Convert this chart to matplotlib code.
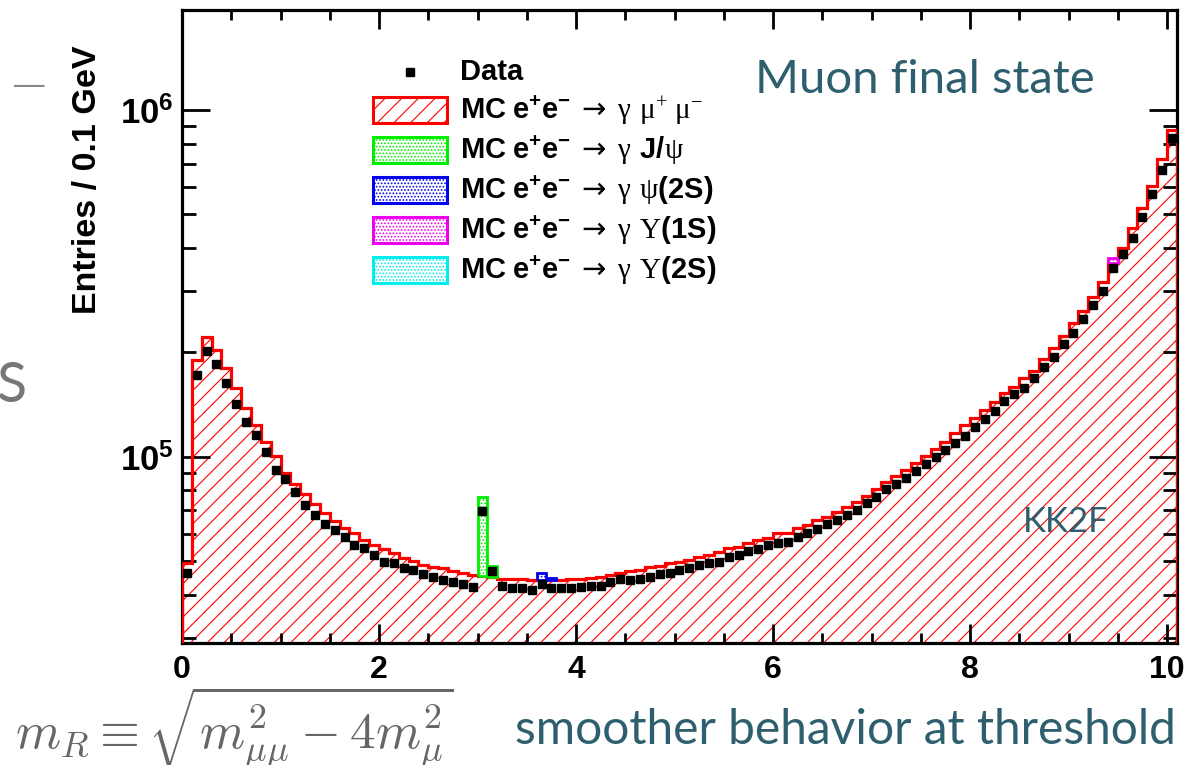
import numpy as np
import matplotlib
matplotlib.use("Agg")
import matplotlib.pyplot as plt
from matplotlib.patches import Rectangle
from matplotlib.lines import Line2D
from matplotlib.ticker import LogLocator, NullFormatter, FixedLocator

plt.rcParams['font.family'] = ['Liberation Sans', 'DejaVu Sans']
plt.rcParams['font.weight'] = 'bold'
plt.rcParams['mathtext.fontset'] = 'custom'
plt.rcParams['mathtext.rm'] = 'Liberation Serif:regular'
plt.rcParams['mathtext.it'] = 'Liberation Serif:italic:regular'
plt.rcParams['mathtext.bf'] = 'Liberation Sans:bold'
plt.rcParams['mathtext.sf'] = 'Liberation Sans:bold'
plt.rcParams['mathtext.tt'] = 'DejaVu Sans:regular'
plt.rcParams['hatch.linewidth'] = 0.8

# entries per 0.1 GeV bin, m_R from 0 to 10.1 GeV
bin_width = 0.1
data_counts = [46100, 172000, 201800, 184700, 162800, 141900, 125700, 115500, 103400, 91550,
               86060, 78950, 72550, 67880, 63830, 61460, 58790, 55630, 54430, 52060,
               49800, 49500, 47660, 47120, 45970, 44980, 44180, 43600, 43020, 42170,
               69720, 46900, 42370, 41900, 41900, 41260, 42940, 41900, 41730, 41730,
               42170, 42450, 42370, 43420, 44300, 44100, 44380, 45070, 45940, 46190,
               47120, 47750, 48650, 49270, 49800, 51480, 52060, 53560, 54060, 55630,
               56490, 56860, 58550, 60130, 61870, 63830, 65680, 67880, 70180, 73370,
               76710, 80540, 83240, 86640, 91130, 95270, 99600, 104900, 109700, 114700,
               121600, 128400, 135700, 144700, 151400, 157500, 168300, 181100, 194300, 211000,
               227900, 249600, 273800, 301200, 349400, 383500, 428100, 490300, 571200, 671300,
               828500]
mc_mumu = [49270, 190000, 221900, 203100, 179900, 157500, 137900, 123400, 110500, 100700,
           89560, 83430, 77900, 73030, 68660, 65240, 62400, 60130, 57510, 55630,
           54060, 52850, 50930, 50030, 48710, 48070, 47660, 46740, 46100, 45670,
           45280, 45070, 44380, 44380, 44300, 44100, 44100, 44100, 44100, 44300,
           44470, 44770, 45070, 45590, 46100, 46900, 47120, 47970, 48380, 49270,
           49800, 50360, 51480, 52060, 53210, 54640, 55000, 56260, 57510, 58160,
           60130, 60360, 62160, 63530, 65680, 67140, 69390, 71450, 74150, 77070,
           80540, 84700, 87950, 91550, 95710, 100500, 105000, 110500, 116800, 123400,
           129100, 136400, 144100, 153000, 159200, 168300, 177000, 191000, 206300, 222900,
           242600, 263800, 289400, 319800, 362000, 400700, 455800, 520600, 603700, 720800,
           875800]

# resonance MC, stacked on top of the mu mu continuum (bin centres in GeV)
jpsi_mass = [3.05, 3.15]
jpsi_counts = [31200, 3300]
psi2s_mass = [3.65, 3.75]
psi2s_counts = [2000, 500]
ups1s_mass = [9.45]
ups1s_counts = [12200]
ups2s_mass = []
ups2s_counts = []

arrow = r'\ \mathtt{\rightarrow}\ '
legend_labels = ['Data',
                 r'$\mathbf{MC\ e^{+}e^{-}}' + arrow + r'\mathrm{\gamma\;\,\mu^{+}\ \mu^{-}}$',
                 r'$\mathbf{MC\ e^{+}e^{-}}' + arrow + r'\mathrm{\gamma}\;\,\mathbf{J/}\mathrm{\psi}$',
                 r'$\mathbf{MC\ e^{+}e^{-}}' + arrow + r'\mathrm{\gamma\;\,\psi}\mathbf{(2S)}$',
                 r'$\mathbf{MC\ e^{+}e^{-}}' + arrow + r'\mathrm{\gamma\;\,\Upsilon}\mathbf{(1S)}$',
                 r'$\mathbf{MC\ e^{+}e^{-}}' + arrow + r'\mathrm{\gamma\;\,\Upsilon}\mathbf{(2S)}$']
legend_colors = ['red', '#00ee00', '#0000ee', '#ee00ee', '#00eeee']

W, H = 1188, 765
def fx(x):
    return x / W
def fy(y):
    return 1 - y / H

fig = plt.figure(figsize=(W / 100, H / 100), dpi=100)
ax = fig.add_axes([fx(182), fy(643), (1176.85 - 182) / W, (643 - 10) / H])

nbins = len(mc_mumu)
edges = np.arange(nbins + 1) * bin_width
centers = edges[:-1] + bin_width / 2
mumu = np.array(mc_mumu, dtype=float)

# hatched continuum + outline
ax.stairs(mumu, edges, baseline=1, fill=True, facecolor='none', edgecolor='red',
          hatch='//', lw=0, zorder=1)
ax.stairs(mumu, edges, color='red', lw=2.3, zorder=3)

def draw_resonance(masses, counts, color):
    for m, c in zip(masses, counts):
        i = int(round((m - bin_width / 2) / bin_width))
        ax.stairs([mumu[i] + c], [edges[i], edges[i + 1]], baseline=[mumu[i]], fill=True,
                  facecolor='white', edgecolor=color, hatch='.....', lw=2, zorder=4)

draw_resonance(jpsi_mass, jpsi_counts, legend_colors[1])
draw_resonance(psi2s_mass, psi2s_counts, legend_colors[2])
draw_resonance(ups1s_mass, ups1s_counts, legend_colors[3])
draw_resonance(ups2s_mass, ups2s_counts, legend_colors[4])

ax.plot(centers, data_counts, 's', color='black', ms=6.3, zorder=5)

ax.set_yscale('log')
ax.set_xlim(0, 10.1)
ax.set_ylim(29020, 1.943e6)
ax.xaxis.set_major_locator(FixedLocator([0, 2, 4, 6, 8, 10]))
ax.xaxis.set_minor_locator(FixedLocator(np.arange(0, 10.1, 0.5)))
ax.yaxis.set_major_locator(LogLocator(base=10, numticks=10))
ax.yaxis.set_minor_locator(LogLocator(base=10, subs=np.arange(2, 10), numticks=10))
ax.yaxis.set_minor_formatter(NullFormatter())
ax.yaxis.set_major_formatter(lambda v, p: r'$\mathbf{10^{%d}}$' % round(np.log10(v)))
ax.set_xticklabels(['0', '2', '4', '6', '8', '10'])

ax.tick_params(which='both', direction='in', top=True, right=True, width=2.0, color='black')
ax.tick_params(axis='x', which='major', length=14, labelsize=23, pad=9)
ax.tick_params(axis='x', which='minor', length=7.5)
ax.tick_params(axis='y', which='major', length=20, labelsize=25, pad=6)
ax.tick_params(axis='y', which='minor', length=10)
for lab in ax.get_xticklabels():
    lab.set_fontweight('bold')
for s in ax.spines.values():
    s.set_linewidth(2.3)

fig.text(fx(88), fy(45), 'Entries / 0.1 GeV', rotation=90, ha='center', va='top',
         fontsize=24.5, fontweight='bold')

# legend drawn by hand, ROOT style
row_y = [72, 110, 150, 190, 230, 270]
fig.add_artist(Line2D([fx(410)], [fy(row_y[0])], marker='s', color='black', ms=6.3,
                      transform=fig.transFigure))
for k, y in enumerate(row_y):
    fig.text(fx(460), fy(y), legend_labels[k], ha='left', va='center', fontsize=21,
             fontweight='bold')
    if k == 0:
        continue
    col = legend_colors[k - 1]
    if k == 1:
        rect = Rectangle((fx(373), fy(y + 13)), 74 / W, 26 / H, transform=fig.transFigure,
                         facecolor='white', edgecolor=col, hatch='//', lw=2.2)
    else:
        rect = Rectangle((fx(373), fy(y + 13)), 74 / W, 26 / H, transform=fig.transFigure,
                         facecolor='white', edgecolor=col, hatch='.....', lw=2.2)
    fig.add_artist(rect)

teal = '#2e5f6e'
fig.text(fx(755), fy(80), 'Muon final state', ha='left', va='center', fontsize=34,
         color=teal, family='Lato', fontweight='normal')
fig.text(fx(1023), fy(522), 'KK2F', ha='left', va='center', fontsize=25,
         color=teal, family='Lato', fontweight='normal')
fig.text(fx(515), fy(730), 'smoother behavior at threshold', ha='left', va='center',
         fontsize=34.5, color=teal, family='Lato', fontweight='normal')
fig.text(fx(15), fy(728), r'$m_R \equiv \sqrt{m_{\mu\mu}^2 - 4m_\mu^2}$', ha='left',
         va='center', fontsize=37, color='#666666', math_fontfamily='cm', fontweight='normal')
fig.text(fx(26), fy(387), 'S', ha='right', va='center', fontsize=40, color='#777777',
         family='Lato', fontweight='normal')
fig.text(fx(45), fy(86), '\u2014', ha='right', va='center', fontsize=22, color='#888888',
         family='Liberation Sans', fontweight='normal')
fig.text(fx(1140), fy(778), '13', ha='left', va='center', fontsize=18, color='black',
         family='Lato', fontweight='normal')

fig.savefig('out.png', dpi=100)
